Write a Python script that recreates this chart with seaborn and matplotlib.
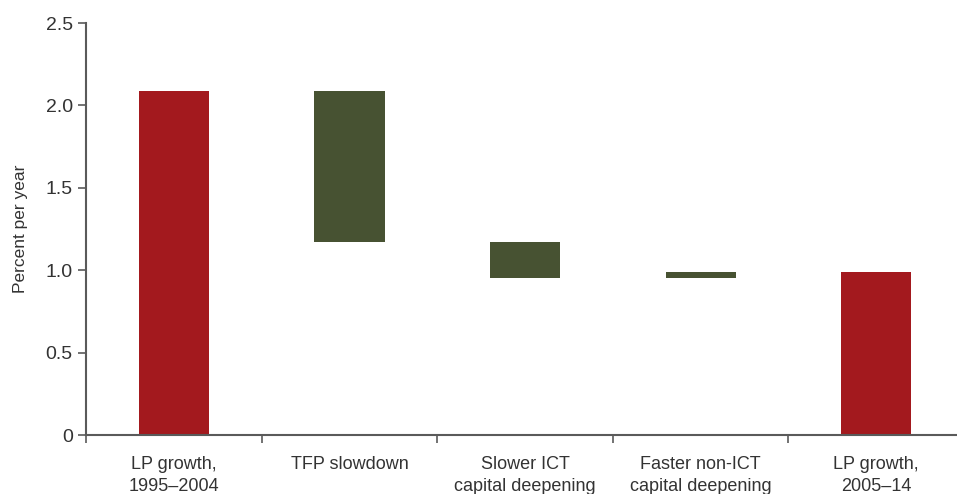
import numpy as np
import pandas as pd
import matplotlib
matplotlib.use('Agg')
import matplotlib.pyplot as plt
import seaborn as sns
from matplotlib.ticker import FixedLocator

# Waterfall data (percent per year)
categories = ['LP growth,\n1995–2004', 'TFP slowdown', 'Slower ICT\ncapital deepening',
              'Faster non-ICT\ncapital deepening', 'LP growth,\n2005–14']
starts = [0.0, 2.09, 1.17, 0.95, 0.0]
ends = [2.09, 1.17, 0.95, 0.99, 0.99]
kinds = ['total', 'change', 'change', 'change', 'total']

df = pd.DataFrame({'category': categories, 'start': starts, 'end': ends, 'kind': kinds})
df['bottom'] = df[['start', 'end']].min(axis=1)
df['height'] = (df['end'] - df['start']).abs()

sns.set_style('white')
plt.rcParams['font.family'] = ['Liberation Sans', 'DejaVu Sans']

colors = {'total': '#a3191e', 'change': '#475232'}
gray = '#5a5a5a'
text_c = '#333333'

fig = plt.figure(figsize=(9.57, 4.94), dpi=100)
ax = fig.add_axes([0.0899, 0.1194, 0.9101, 0.834])

sns.barplot(data=df, x='category', y='height', bottom=df['bottom'].values,
            order=categories, width=0.4, color='#a3191e', ax=ax)
for patch, kind in zip(ax.patches, df['kind']):
    patch.set_facecolor(colors[kind])
    patch.set_edgecolor('none')

ax.set_xlim(-0.5, 4.46)
ax.set_ylim(0, 2.5)
ax.set_yticks([0, 0.5, 1.0, 1.5, 2.0, 2.5])
ax.set_yticklabels(['0', '0.5', '1.0', '1.5', '2.0', '2.5'])
ax.set_xlabel('')
ax.set_ylabel('Percent per year', fontsize=12.5, color=text_c, labelpad=13)

ax.tick_params(axis='x', which='major', length=0, pad=15, labelsize=13, labelcolor=text_c)
for lbl in ax.get_xticklabels():
    lbl.set_linespacing(1.4)
ax.xaxis.set_minor_locator(FixedLocator(np.arange(-0.5, 5, 1.0)))
ax.tick_params(axis='x', which='minor', bottom=True, length=6, width=1.2, color=gray, direction='out')
ax.tick_params(axis='y', length=6, width=1.2, color=gray, direction='out',
               labelsize=14, labelcolor=text_c, left=True)

for side in ['top', 'right']:
    ax.spines[side].set_visible(False)
for side in ['left', 'bottom']:
    ax.spines[side].set_color(gray)
    ax.spines[side].set_linewidth(1.5)

fig.savefig('out.png', dpi=100)
